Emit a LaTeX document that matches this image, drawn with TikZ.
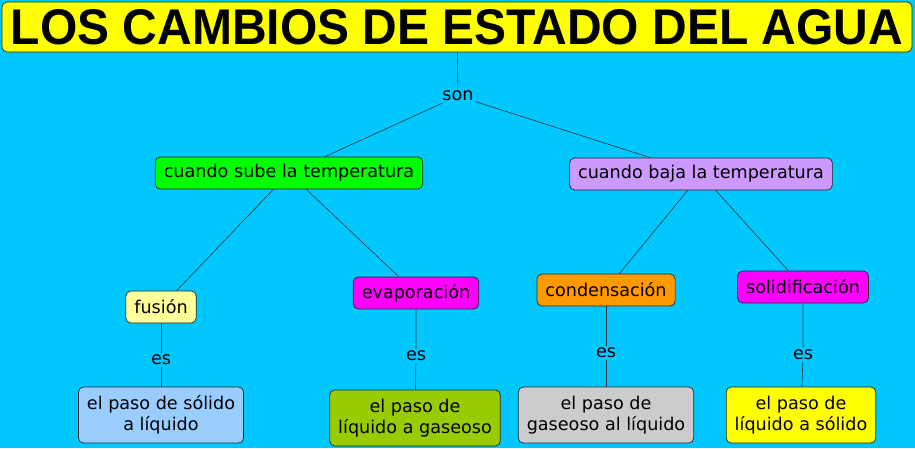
\documentclass[tikz,border=0pt]{standalone}
\usepackage{fontspec}
\setmainfont{DejaVu Sans}
\newfontfamily\titlefont{Liberation Sans}
\usetikzlibrary{positioning}

\definecolor{fondo}{RGB}{0,200,255}
\definecolor{verdeclaro}{RGB}{0,255,0}
\definecolor{lila}{RGB}{204,153,255}
\definecolor{amarilloclaro}{RGB}{255,255,153}
\definecolor{naranja}{RGB}{255,153,0}
\definecolor{rosa}{RGB}{255,0,255}
\definecolor{azulclaro}{RGB}{153,204,255}
\definecolor{oliva}{RGB}{153,204,0}
\definecolor{gris}{RGB}{204,204,204}
\definecolor{amarillo}{RGB}{255,255,0}

\tikzset{
  concepto/.style={draw=black!85, line width=0.7pt, rounded corners=5pt,
    font=\fontsize{17.6}{21}\selectfont, inner xsep=8.5pt, inner ysep=2pt,
    minimum height=32pt, align=center},
  enlace/.style={font=\fontsize{17.6}{21}\selectfont, inner sep=2pt},
  linea/.style={draw=black!80, line width=0.6pt}
}

\begin{document}
\begin{tikzpicture}[x=1pt,y=-1pt]
    % fondo
    \fill[fondo] (0,0) rectangle (915,448);
    \useasboundingbox (0,0) rectangle (915,448);

    % titulo
    \node[draw=black!85, line width=0.7pt, fill=amarillo, rounded corners=5pt,
      minimum width=910pt, minimum height=50pt, inner sep=0pt] (titulo) at (457,27)
      {\resizebox{892pt}{35pt}{\titlefont\bfseries LOS CAMBIOS DE ESTADO DEL AGUA}};

    % enlace principal
    \node[enlace] (son) at (458,96) {son};

    % conceptos de temperatura
    \node[concepto, fill=verdeclaro] (sube) at (289,173) {cuando sube la temperatura};
    \node[concepto, fill=lila] (baja) at (701,174) {cuando baja la temperatura};

    % cambios de estado
    \node[concepto, fill=amarilloclaro] (fusion) at (161,307) {fusión};
    \node[concepto, fill=rosa] (evap) at (416,293) {evaporación};
    \node[concepto, fill=naranja] (cond) at (606,290) {condensación};
    \node[concepto, fill=rosa] (solid) at (803,287) {solidificación};

    % enlaces es
    \node[enlace] (es1) at (161,360) {es};
    \node[enlace] (es2) at (416,356) {es};
    \node[enlace] (es3) at (606,353) {es};
    \node[enlace] (es4) at (803,355) {es};

    % definiciones
    \node[concepto, fill=azulclaro, minimum height=56pt] (paso1) at (161,415)
      {el paso de sólido\\a líquido};
    \node[concepto, fill=oliva, minimum height=56pt] (paso2) at (415,418)
      {el paso de\\líquido a gaseoso};
    \node[concepto, fill=gris, minimum height=56pt] (paso3) at (606,415)
      {el paso de\\gaseoso al líquido};
    \node[concepto, fill=amarillo, minimum height=56pt] (paso4) at (801,415)
      {el paso de\\líquido a sólido};

    % lineas
    \draw[linea] (titulo) -- (son);
    \draw[linea] (son) -- (sube);
    \draw[linea] (son) -- (baja);
    \draw[linea] (sube) -- (fusion);
    \draw[linea] (sube) -- (evap);
    \draw[linea] (baja) -- (cond);
    \draw[linea] (baja) -- (solid);
    \draw[linea] (fusion) -- (es1) -- (paso1);
    \draw[linea] (evap) -- (es2) -- (paso2);
    \draw[linea] (cond) -- (es3) -- (paso3);
    \draw[linea] (solid) -- (es4) -- (paso4);
\end{tikzpicture}
\end{document}
